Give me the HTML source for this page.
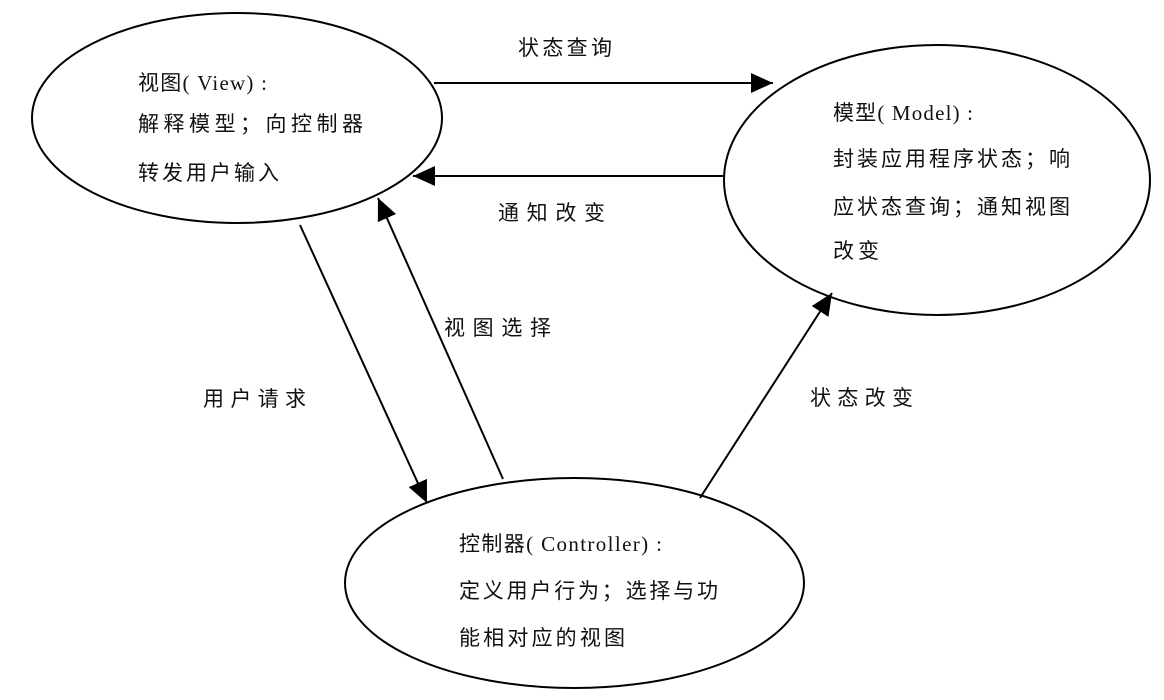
<!DOCTYPE html>
<html><head><meta charset="utf-8"><style>
html,body{margin:0;padding:0;background:#fff;}
svg{display:block;}
text{font-family:"Liberation Serif","Noto Sans CJK SC",serif;font-size:21px;fill:#111;}
</style></head><body>
<svg width="1164" height="700" viewBox="0 0 1164 700" xmlns="http://www.w3.org/2000/svg">
<defs>
<marker id="a" markerWidth="22" markerHeight="20" refX="22" refY="10" orient="auto" markerUnits="userSpaceOnUse">
<path d="M0,0 L22,10 L0,20 Z" fill="#000"/>
</marker>
</defs>
<g fill="none" stroke="#000" stroke-width="2">
<ellipse cx="237" cy="118" rx="205" ry="105"/>
<ellipse cx="937" cy="180" rx="213" ry="135"/>
<ellipse cx="574.5" cy="583" rx="229.5" ry="105"/>
<line x1="434" y1="83" x2="773" y2="83" marker-end="url(#a)"/>
<line x1="724" y1="176" x2="413" y2="176" marker-end="url(#a)"/>
<line x1="300" y1="225" x2="427" y2="503" marker-end="url(#a)"/>
<line x1="503" y1="479" x2="378" y2="198" marker-end="url(#a)"/>
<line x1="700" y1="498" x2="832" y2="293" marker-end="url(#a)"/>
</g>
<g lengthAdjust="spacing">
<text x="138" y="90" textLength="129" lengthAdjust="spacing">视图( View) :</text>
<text x="138" y="131" textLength="225" lengthAdjust="spacing">解释模型；向控制器</text>
<text x="138" y="180" textLength="141" lengthAdjust="spacing">转发用户输入</text>
<text x="833" y="120" textLength="140" lengthAdjust="spacing">模型( Model) :</text>
<text x="833" y="166" textLength="237" lengthAdjust="spacing">封装应用程序状态；响</text>
<text x="833" y="214" textLength="237" lengthAdjust="spacing">应状态查询；通知视图</text>
<text x="833" y="258" textLength="46" lengthAdjust="spacing">改变</text>
<text x="459" y="551" textLength="203" lengthAdjust="spacing">控制器( Controller) :</text>
<text x="459" y="598" textLength="259" lengthAdjust="spacing">定义用户行为；选择与功</text>
<text x="459" y="645" textLength="166" lengthAdjust="spacing">能相对应的视图</text>
<text x="518" y="55" textLength="94" lengthAdjust="spacing">状态查询</text>
<text x="498" y="220" textLength="107" lengthAdjust="spacing">通知改变</text>
<text x="444" y="335" textLength="107" lengthAdjust="spacing">视图选择</text>
<text x="203" y="406" textLength="103" lengthAdjust="spacing">用户请求</text>
<text x="810" y="405" textLength="103" lengthAdjust="spacing">状态改变</text>
</g>
</svg>
</body></html>
